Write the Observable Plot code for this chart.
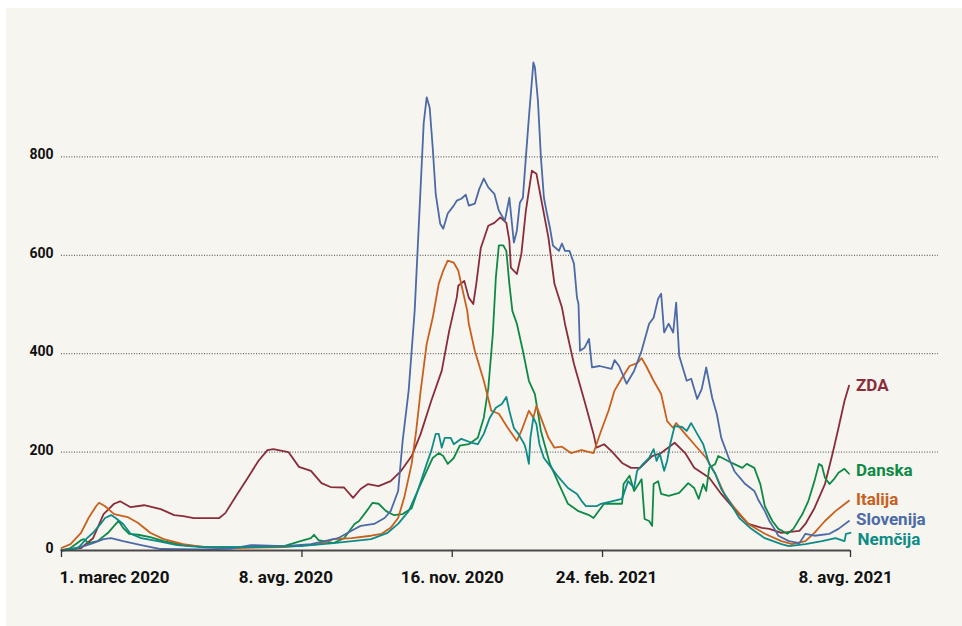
<!DOCTYPE html>
<html><head><meta charset="utf-8">
<script src="https://cdn.jsdelivr.net/npm/d3@7"></script>
<script src="https://cdn.jsdelivr.net/npm/@observablehq/plot@0.6"></script>
<style>
html,body{margin:0;padding:0;background:#fff;}
#panel{position:absolute;left:6px;top:8px;width:956px;height:618px;background:#f6f5f0;}
#chart{position:absolute;left:0;top:0;}
</style></head><body><div id="panel"></div><div id="chart"></div>
<script>
// Days since 1 March 2020, value (7-day average per million)
const startDate = "2020-03-01";
const endDate = "2021-08-08";
const seriesNames = ["ZDA", "Danska", "Italija", "Slovenija", "Nemčija"];
const seriesColors = ["#8a2d3b", "#0f8a46", "#c8601e", "#4c6aa6", "#0e8b86"];

const zda = [[0,1],[13,5],[21,25],[28,74],[35,95],[39,100],[46,88],[55,92],[66,84],[75,72],[81,70],[88,66],[97,66],[105,66],[109,76],[117,115],[124,148],[131,182],[137,204],[141,206],[151,200],[158,170],[166,162],[173,137],[179,129],[188,128],[194,107],[199,125],[204,135],[211,131],[219,141],[226,162],[233,192],[239,237],[246,304],[253,365],[258,447],[263,514],[264,538],[268,548],[271,514],[274,501],[276,542],[279,615],[284,660],[288,666],[292,677],[296,666],[298,630],[299,575],[303,562],[306,603],[309,691],[313,772],[316,766],[319,717],[324,636],[328,542],[333,494],[335,461],[341,379],[348,304],[354,237],[356,209],[361,216],[366,202],[373,178],[379,168],[385,168],[393,192],[399,198],[408,219],[415,198],[421,168],[431,148],[439,115],[448,83],[457,54],[466,46],[471,44],[479,36],[491,40],[495,54],[501,86],[508,135],[513,196],[517,249],[521,304],[524,335]];

const danska = [[0,0],[6,5],[13,21],[15,23],[18,15],[24,19],[31,36],[35,50],[38,60],[41,46],[45,34],[51,32],[59,27],[68,19],[81,11],[97,7],[126,7],[148,9],[159,19],[166,25],[168,32],[171,21],[181,15],[188,25],[195,54],[198,60],[203,80],[207,97],[211,95],[216,80],[221,72],[227,74],[233,86],[237,121],[243,162],[247,188],[251,198],[254,192],[257,176],[261,188],[265,213],[271,216],[277,229],[281,270],[284,330],[287,440],[289,554],[291,620],[294,620],[296,609],[298,542],[300,487],[303,461],[307,406],[311,345],[315,318],[319,243],[325,176],[331,135],[337,95],[344,80],[351,72],[354,66],[361,95],[373,95],[374,135],[378,152],[381,121],[384,135],[386,145],[388,64],[391,60],[393,50],[394,135],[397,141],[399,115],[404,111],[411,117],[417,137],[421,127],[424,105],[427,135],[429,121],[431,168],[435,176],[437,192],[441,186],[446,178],[453,168],[456,176],[461,168],[465,135],[468,90],[473,60],[477,44],[483,34],[487,44],[493,74],[497,101],[501,141],[504,176],[506,172],[508,148],[511,135],[514,145],[517,158],[521,166],[524,156]];

const italija = [[0,5],[6,13],[13,36],[18,66],[23,90],[25,97],[29,90],[35,74],[44,68],[51,56],[59,36],[68,23],[81,13],[95,7],[117,5],[148,7],[171,13],[181,23],[193,25],[206,30],[213,34],[219,46],[224,66],[228,107],[233,176],[236,243],[239,325],[243,420],[247,473],[251,542],[254,569],[257,589],[261,585],[264,569],[267,528],[270,487],[271,461],[275,406],[281,345],[286,284],[291,278],[297,249],[303,223],[306,243],[311,284],[314,270],[316,294],[319,270],[324,229],[328,209],[333,211],[339,198],[346,204],[354,198],[359,243],[364,284],[368,325],[373,351],[378,375],[383,381],[386,391],[389,375],[394,345],[399,318],[403,263],[407,249],[409,259],[415,237],[421,216],[429,188],[435,156],[441,115],[448,86],[457,54],[468,34],[479,19],[486,13],[495,19],[501,36],[508,60],[515,80],[524,101]];

const slovenija = [[0,0],[3,1],[15,9],[21,15],[28,23],[33,25],[41,19],[53,11],[66,3],[93,2],[113,4],[126,11],[148,9],[166,13],[184,25],[193,40],[199,50],[208,54],[215,66],[219,80],[224,121],[227,223],[231,325],[233,406],[235,487],[238,677],[241,868],[243,921],[245,900],[247,819],[249,725],[252,664],[254,654],[257,685],[261,701],[263,711],[266,715],[269,723],[271,701],[275,705],[278,735],[281,756],[284,738],[288,725],[291,691],[295,670],[298,717],[301,626],[303,650],[305,707],[307,717],[309,799],[311,880],[314,992],[315,982],[317,915],[319,799],[321,717],[323,685],[325,656],[327,620],[331,609],[333,624],[335,609],[338,609],[341,583],[343,514],[344,501],[345,406],[348,412],[351,430],[353,372],[358,375],[366,369],[368,387],[371,375],[376,339],[381,365],[386,406],[391,461],[394,473],[397,512],[399,522],[401,443],[404,461],[407,443],[409,504],[411,396],[416,345],[419,349],[423,308],[426,328],[429,372],[433,310],[436,278],[439,229],[444,188],[448,160],[455,135],[461,121],[464,101],[468,80],[471,60],[474,46],[477,30],[484,19],[491,15],[495,34],[501,30],[511,34],[517,44],[524,60]];

const nemcija = [[0,0],[11,5],[17,25],[21,36],[26,54],[29,66],[33,72],[36,66],[41,54],[46,34],[53,25],[64,19],[77,11],[93,7],[126,7],[159,9],[181,15],[206,23],[217,36],[224,54],[231,80],[237,121],[243,176],[246,202],[249,237],[251,237],[253,209],[255,229],[259,229],[261,216],[266,227],[273,219],[277,216],[281,237],[285,270],[289,290],[293,298],[296,312],[298,284],[301,249],[304,237],[308,216],[309,206],[311,176],[312,229],[314,270],[316,257],[318,216],[321,188],[326,168],[331,148],[337,127],[343,115],[346,101],[349,90],[356,90],[359,95],[373,105],[377,141],[381,127],[383,162],[387,176],[391,188],[394,206],[396,182],[398,198],[401,162],[403,182],[405,216],[408,253],[413,251],[416,243],[419,259],[423,237],[427,216],[431,176],[435,156],[439,125],[444,101],[451,66],[459,44],[468,25],[479,13],[484,9],[495,13],[506,19],[515,25],[521,19],[522,34],[525,36]];

const xTickDates = ["2020-03-01", "2020-08-08", "2020-11-16", "2021-02-24", "2021-08-08"];
const xTickLabels = ["1. marec 2020", "8. avg. 2020", "16. nov. 2020", "24. feb. 2021", "8. avg. 2021"];
const yTicks = [0, 200, 400, 600, 800];

// style: horizontal nudge of tick labels and vertical nudge of end labels (px)
const tickLabelStyle = [{anchor: "start", dx: -2}, {anchor: "middle", dx: -16}, {anchor: "middle", dx: 0}, {anchor: "middle", dx: 4}, {anchor: "middle", dx: -5}];
const labelNudge = {"ZDA": 0, "Danska": -3, "Italija": -1, "Slovenija": -1, "Nemčija": 7};

const start = new Date(startDate + "T00:00:00Z");
const seriesData = [zda, danska, italija, slovenija, nemcija];
const rowsBySeries = seriesData.map((arr, k) =>
  arr.map(([d, v]) => ({country: seriesNames[k], date: d3.utcDay.offset(start, d), value: v})));
const ticks = xTickDates.map((d, i) => ({date: new Date(d + "T00:00:00Z"), label: xTickLabels[i]}));

const font = "Roboto, 'Noto Sans', sans-serif";
const marks = [
  Plot.ruleY(yTicks.filter(d => d > 0), {stroke: "#444", strokeWidth: 1, strokeDasharray: "1,1.6", insetRight: -88}),
  Plot.text(yTicks, {y: d => d, text: d => String(d), frameAnchor: "left", textAnchor: "end", dx: -8, dy: -2, fontSize: 14, fontWeight: "bold", fill: "#111"}),
];
rowsBySeries.forEach((rows, k) => {
  marks.push(Plot.line(rows, {x: "date", y: "value", stroke: seriesColors[k], strokeWidth: 1.8, strokeLinejoin: "round"}));
});
marks.push(Plot.ruleY([0], {stroke: "#484848", strokeWidth: 2}));
marks.push(Plot.axisX({ticks: ticks.map(t => t.date), tickSize: 7, tickFormat: () => "", stroke: "#333", strokeWidth: 1.3, label: null}));
ticks.forEach((t, i) => {
  marks.push(Plot.text([t], {x: "date", y: 0, text: "label", textAnchor: tickLabelStyle[i].anchor, dx: tickLabelStyle[i].dx, dy: 27, fontSize: 17, fontWeight: "bold", fill: "#111"}));
});
rowsBySeries.forEach((rows, k) => {
  marks.push(Plot.text([rows[rows.length - 1]], {x: "date", y: "value", text: "country", fill: seriesColors[k], textAnchor: "start", dx: 7, dy: labelNudge[seriesNames[k]], fontSize: 17, fontWeight: "bold"}));
});

const chart = Plot.plot({
  width: 962,
  height: 626,
  marginLeft: 61,
  marginRight: 112,
  marginTop: 58,
  marginBottom: 76,
  style: {background: "transparent", fontFamily: font, overflow: "visible"},
  x: {type: "utc", domain: [start, new Date(endDate + "T00:00:00Z")]},
  y: {domain: [0, 1000], axis: null},
  marks
});
document.getElementById("chart").appendChild(chart);
</script></body></html>
